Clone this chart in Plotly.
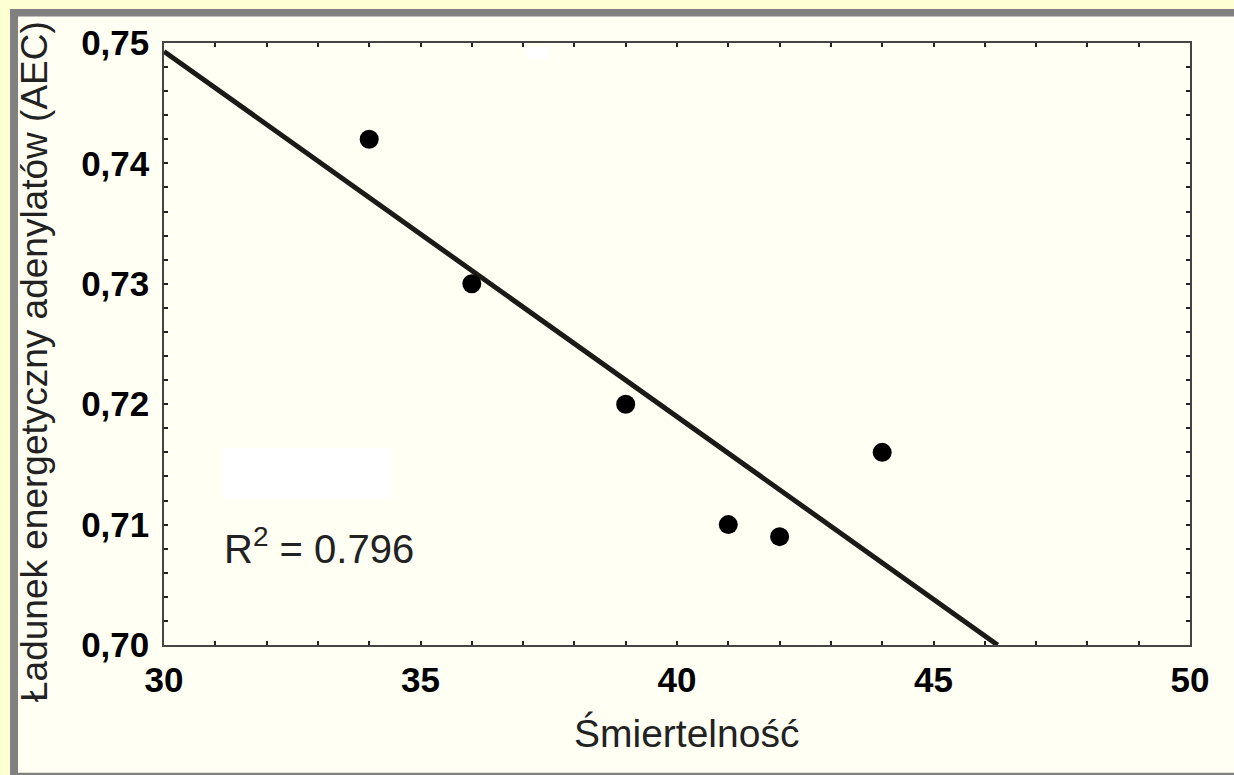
import plotly.graph_objects as go

# ---- data ----
mortality = [34, 36, 39, 41, 42, 44]
aec = [0.742, 0.730, 0.720, 0.710, 0.709, 0.716]
trend_x = [30, 46.25]
trend_y = [0.7493, 0.700]
x_ticks = [30, 35, 40, 45, 50]
y_ticks = [0.70, 0.71, 0.72, 0.73, 0.74, 0.75]
r2_text = "R<sup>2</sup> = 0.796"
x_title = "Śmiertelność"
y_title = "Ładunek energetyczny adenylatów (AEC)"

W, H = 1234, 775
L, R, T, B = 164, 44, 43, 130
PW, PH = W - L - R, H - T - B


def px(x):
    return (x - L) / PW


def py(y):
    return (H - B - y) / PH


IVORY = "#FFFFF4"
YELLOW = "#FFFFD4"
FONT = "Liberation Sans, Arial, sans-serif"

fig = go.Figure()
fig.add_trace(go.Scatter(x=trend_x, y=trend_y, mode="lines",
                         line=dict(color="#1c1a17", width=5),
                         hoverinfo="skip", showlegend=False))
fig.add_trace(go.Scatter(x=mortality, y=aec, mode="markers",
                         marker=dict(color="black", size=19),
                         showlegend=False))

shapes = [
    # grey frame
    dict(type="rect", xref="paper", yref="paper", layer="below",
         x0=px(10), x1=px(W + 40), y0=py(9), y1=py(H + 20),
         fillcolor="#808080", line=dict(width=0)),
    # ivory panel
    dict(type="rect", xref="paper", yref="paper", layer="below",
         x0=px(18), x1=px(W + 40), y0=py(16.5), y1=py(772.7),
         fillcolor=IVORY, line=dict(width=0)),
    # white patches
    dict(type="rect", xref="paper", yref="paper", layer="below",
         x0=px(222.7), x1=px(391.7), y0=py(448.3), y1=py(499.3),
         fillcolor="white", line=dict(width=0)),
    dict(type="rect", xref="paper", yref="paper", layer="below",
         x0=px(526.7), x1=px(548.3), y0=py(46.7), y1=py(59.3),
         fillcolor="white", line=dict(width=0)),
]

annotations = [
    dict(text=r2_text, xref="paper", yref="paper", x=px(222), y=py(546),
         xanchor="left", yanchor="middle", showarrow=False,
         font=dict(family=FONT, size=40, color="#222222")),
    dict(text=x_title, xref="paper", yref="paper", x=px(686), y=py(733),
         xanchor="center", yanchor="middle", showarrow=False,
         font=dict(family=FONT, size=39, color="#222222")),
    dict(text=y_title, xref="paper", yref="paper", x=px(34), y=py(362),
         xanchor="center", yanchor="middle", showarrow=False, textangle=-90,
         font=dict(family=FONT, size=37, color="#222222")),
]

axis_common = dict(
    showgrid=False, zeroline=False, showline=True, linecolor="#444444",
    linewidth=1.5, mirror="ticks", ticks="inside", ticklen=4,
    tickcolor="#222222", tickwidth=1.5,
    tickfont=dict(family=FONT, size=35, color="black", weight="bold"),
)

fig.update_layout(
    width=W, height=H,
    margin=dict(l=L, r=R, t=T, b=B, pad=0),
    paper_bgcolor=YELLOW, plot_bgcolor=IVORY,
    separators=", ",
    shapes=shapes, annotations=annotations,
    xaxis=dict(range=[30, 50], tickvals=x_ticks, ticklabelstandoff=3,
               minor=dict(dtick=1, ticks="inside", ticklen=4,
                          tickcolor="#222222", tickwidth=1.5),
               **axis_common),
    yaxis=dict(range=[0.70, 0.75], tickvals=y_ticks, tickformat=".2f",
               ticklabelstandoff=6,
               minor=dict(dtick=0.002, ticks="inside", ticklen=4,
                          tickcolor="#222222", tickwidth=1.5),
               **axis_common),
    showlegend=False,
)

fig.write_html("out.html",
               config={"displayModeBar": False},
               post_script="document.body.style.margin='0';"
                           "document.body.style.overflow='hidden';"
                           "document.documentElement.style.overflow='hidden';"
                           "document.documentElement.style.background='" + IVORY + "';")
